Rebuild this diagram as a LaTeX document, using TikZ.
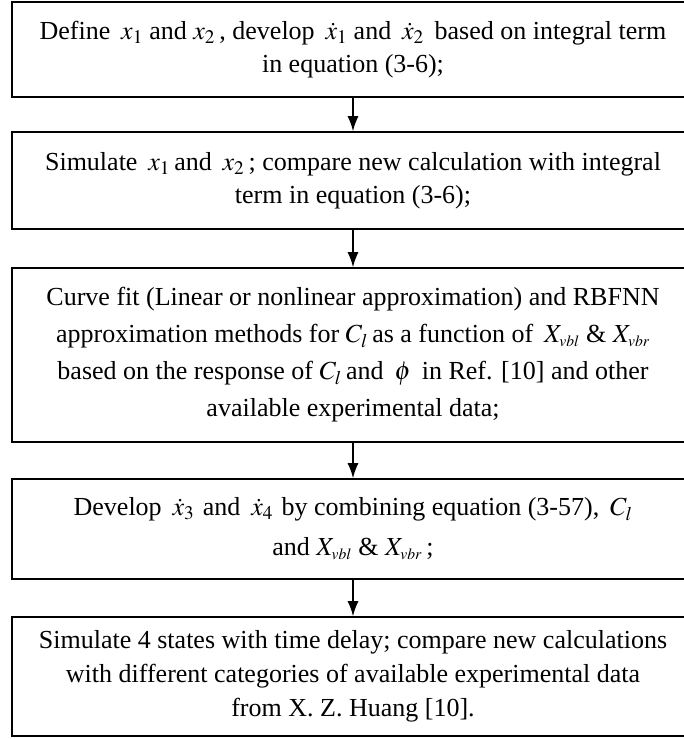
\documentclass[tikz,border=0pt]{standalone}
\usepackage{mathptmx}
\usepackage{fontspec}
\setmainfont{Liberation Serif}
\usetikzlibrary{arrows.meta}
\tikzset{
  stepbox/.style={draw=black, line width=1.6pt, rectangle, inner sep=0pt,
    minimum width=682pt, align=center, font=\fontsize{26}{33}\selectfont},
  flow/.style={line width=1.4pt, -{Latex[length=15pt,width=11pt]}}
}
\begin{document}
\begin{tikzpicture}[x=1pt,y=-1pt]
\useasboundingbox (0,0) rectangle (684,739);
\clip (0,0) rectangle (684,739);
\node[stepbox, minimum height=95pt] (b1) at (353,49.5)
  {Define\, $x_1$ and $x_2$\,, develop\, $\dot{x}_1$ and\, $\dot{x}_2$\, based on integral term\\ in equation (3-6);};
\node[stepbox, minimum height=97pt] (b2) at (353,180.5)
  {Simulate\, $x_1$\,and\, $x_2$\,; compare new calculation with integral\\ term in equation (3-6);};
\node[stepbox, minimum height=174pt, font=\fontsize{26}{37}\selectfont] (b3) at (353,355)
  {Curve fit (Linear or nonlinear approximation) and RBFNN\\
   approximation methods for $C_l$\,as a function of\, $X_{\scriptscriptstyle vbl}$ \& $X_{\scriptscriptstyle vbr}$\\
   based on the response of $C_l$\,and\, $\phi$\, in Ref. [10] and other\\
   available experimental data;};
\node[stepbox, minimum height=100pt, font=\fontsize{26}{40}\selectfont] (b4) at (353,529)
  {Develop\, $\dot{x}_3$\,\,and\, $\dot{x}_4$\,\,by combining equation (3-57),\, $C_l$\\
   and $X_{\scriptscriptstyle vbl}$ \& $X_{\scriptscriptstyle vbr}$\,;};
\node[stepbox, minimum height=119pt, font=\fontsize{26}{34}\selectfont] (b5) at (353,676.5)
  {Simulate 4 states with time delay; compare new calculations\\
   with different categories of available experimental data\\
   from X. Z. Huang [10].};
\draw[flow] (b1) -- (b2);
\draw[flow] (b2) -- (b3);
\draw[flow] (b3) -- (b4);
\draw[flow] (b4) -- (b5);
\end{tikzpicture}
\end{document}
